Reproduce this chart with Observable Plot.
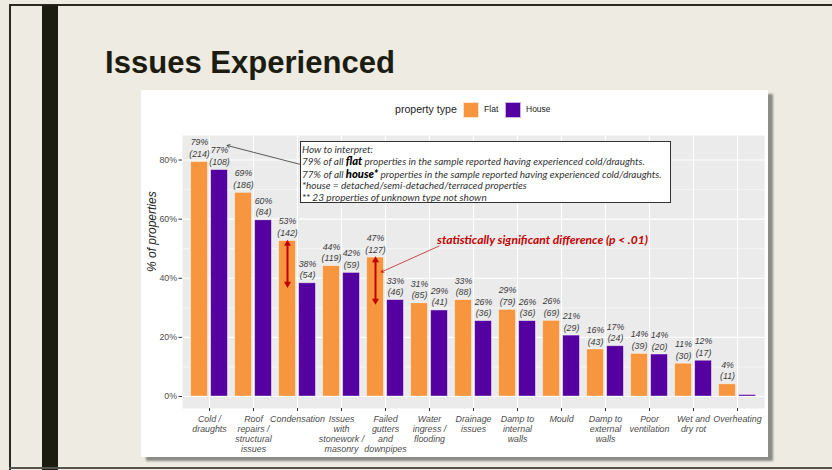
<!DOCTYPE html>
<html><head><meta charset="utf-8">
<script src="https://cdn.jsdelivr.net/npm/d3@7"></script>
<script src="https://cdn.jsdelivr.net/npm/@observablehq/plot@0.6"></script>
<style>
body{margin:0;background:#EEEBE3;width:832px;height:470px;overflow:hidden;position:relative;font-family:"Liberation Sans",Arial,sans-serif}
.abs{position:absolute}
.fit{white-space:nowrap;display:inline-block;line-height:1}
#card svg{position:absolute;left:0;top:0}
.note{font-family:Lato,"Open Sans",sans-serif;font-style:italic;color:#333;position:absolute;left:1px;font-size:10px}
.note b{color:#000;font-size:1.12em;font-weight:900;line-height:0.9}
</style></head><body>
<div class="abs" style="left:9px;top:4px;width:823px;height:2px;background:#2a2a22"></div>
<div class="abs" style="left:9px;top:4px;width:2px;height:466px;background:#2a2a22"></div>
<div class="abs" style="left:42px;top:5px;width:16px;height:465px;background:#1C1C10"></div>
<div class="abs" style="left:9px;top:467px;width:823px;height:2px;background:#55554f"></div>
<div id="title" class="abs fit" style="left:105px;top:47px;font-family:'Liberation Sans',Arial,sans-serif;font-weight:bold;font-size:31.5px;color:#1C1C10;transform-origin:0 0">Issues Experienced</div>
<div id="card" class="abs" style="left:141px;top:90px;width:627px;height:367px;background:#fff;box-shadow:5px 4px 2px #8c8c86">
  <div class="abs fit" style="left:254px;top:14px;font-size:10.6px;color:#222">property type</div>
  <div class="abs" style="left:322px;top:12px;width:14px;height:14px;background:#F8953F;border:0.5px solid #fde3cc"></div>
  <div class="abs fit" style="left:343px;top:15px;font-size:8.6px;color:#222">Flat</div>
  <div class="abs" style="left:364px;top:12px;width:14px;height:14px;background:#5500A0;border:0.5px solid #c9b0e6"></div>
  <div class="abs fit" style="left:385px;top:15px;font-size:8.5px;color:#222">House</div>
  <div id="note" class="abs" style="left:159px;top:51px;width:369px;height:60px;border:1.5px solid #333;background:#fff;z-index:2">
    <div id="n1" class="note fit" style="top:1.5px">How to interpret:</div>
    <div class="note fit" data-w="343" style="top:14px">79% of all <b>flat</b> properties in the sample reported having experienced cold/draughts.</div>
    <div class="note fit" data-w="360" style="top:26.5px">77% of all <b>house*</b> properties in the sample reported having experienced cold/draughts.</div>
    <div class="note fit base" data-w="225" style="top:38px">*house = detached/semi-detached/terraced properties</div>
    <div class="note fit base" data-w="185" style="top:49.5px">** 23 properties of unknown type not shown</div>
  </div>
  <div id="sig" class="abs fit" style="left:296px;top:144px;font-family:Lato,'Open Sans',sans-serif;font-style:italic;font-weight:bold;color:#C00000;font-size:12px;z-index:2">statistically significant difference (p &lt; .01)</div>
</div>
<script>
const categories = ["Cold /\ndraughts","Roof\nrepairs /\nstructural\nissues","Condensation","Issues\nwith\nstonework /\nmasonry","Failed\ngutters\nand\ndownpipes","Water\ningress /\nflooding","Drainage\nissues","Damp to\ninternal\nwalls","Mould","Damp to\nexternal\nwalls","Poor\nventilation","Wet and\ndry rot","Overheating"];
const flatPct  = [79.3, 68.9, 52.6, 44.1, 47.0, 31.5, 32.6, 29.3, 25.6, 15.9, 14.4, 11.1, 4.1];
const flatLab  = [79, 69, 53, 44, 47, 31, 33, 29, 26, 16, 14, 11, 4];
const flatN    = [214, 186, 142, 119, 127, 85, 88, 79, 69, 43, 39, 30, 11];
const housePct = [76.6, 59.6, 38.3, 41.8, 32.6, 29.1, 25.5, 25.5, 20.6, 17.0, 14.2, 12.1, 0.5];
const houseLab = [77, 60, 38, 42, 33, 29, 26, 26, 21, 17, 14, 12, null];
const houseN   = [108, 84, 54, 59, 46, 41, 36, 36, 29, 24, 20, 17, null];
const yTicks = [0, 20, 40, 60, 80];
const yMinor = [10, 30, 50, 70];
const sigCats = ["Condensation", "Failed\ngutters\nand\ndownpipes"];

const flat = categories.map((c,i)=>({cat:c, pct:flatPct[i], lab:flatLab[i], n:flatN[i]}));
const house = categories.map((c,i)=>({cat:c, pct:housePct[i], lab:houseLab[i], n:houseN[i]}));
const sig = sigCats.map(c=>{const i=categories.indexOf(c); return {cat:c, y1:flatPct[i]-0.9, y2:housePct[i]-0.2};});
const sigEnds = sig.flatMap(d=>[{cat:d.cat, y:d.y1, rot:0}, {cat:d.cat, y:d.y2, rot:180}]);
const noteArrow = [{x1:categories[2], y1:78.5, x2:categories[0], y2:86.2}];
const sigArrow = [{x1:categories[6], y1:55.5, x2:categories[4], y2:42.1}];

const ORANGE="#F8953F", PURPLE="#5500A0", RED="#C00000";
const lblFont = {fontSize:8.8, fontStyle:"italic", fill:"#3a3a3a", lineHeight:1.32, lineAnchor:"bottom", dy:-5};

const chart = Plot.plot({
  width:627, height:367,
  marginLeft:41, marginRight:4, marginTop:45, marginBottom:49,
  style:{background:"transparent", fontFamily:"'Liberation Sans',Arial,sans-serif"},
  x:{domain:categories, paddingInner:0, paddingOuter:0.1},
  y:{domain:[-4.06, 88.3]},
  marks:[
    Plot.frame({fill:"#EBEBEB", stroke:null}),
    Plot.gridY({ticks:yMinor, stroke:"#fff", strokeOpacity:1, strokeWidth:0.55}),
    Plot.gridY({ticks:yTicks, stroke:"#fff", strokeOpacity:1, strokeWidth:1.1}),
    Plot.gridX({stroke:"#fff", strokeOpacity:1, strokeWidth:1.1}),
    Plot.barY(flat, {x:"cat", y:"pct", fill:ORANGE, stroke:"#fff", strokeOpacity:0.55, strokeWidth:0.7, insetLeft:3.7, insetRight:23.6}),
    Plot.barY(house, {x:"cat", y:"pct", fill:PURPLE, stroke:"#fff", strokeOpacity:0.55, strokeWidth:0.7, insetLeft:23.7, insetRight:3.6}),
    Plot.text(flat, {x:"cat", y:"pct", text:d=>`${d.lab}%\n(${d.n})`, dx:-10, ...lblFont}),
    Plot.text(house.filter(d=>d.n!=null), {x:"cat", y:"pct", text:d=>`${d.lab}%\n(${d.n})`, dx:10, ...lblFont}),
    Plot.link(sig, {x1:"cat", x2:"cat", y1:"y1", y2:"y2", dx:-10, stroke:RED, strokeWidth:2}),
    Plot.dot(sigEnds, {x:"cat", y:"y", dx:-10, symbol:"triangle", r:2.6, fill:RED, stroke:null, rotate:"rot"}),
    Plot.arrow(noteArrow, {x1:"x1", y1:"y1", x2:"x2", y2:"y2", dx:3, insetEnd:15, stroke:"#333", strokeWidth:0.8, headLength:6}),
    Plot.arrow(sigArrow, {x1:"x1", y1:"y1", x2:"x2", y2:"y2", dx:-4.3, insetStart:33, stroke:RED, strokeWidth:0.7, headLength:6}),
    Plot.axisY({ticks:yTicks, tickFormat:d=>d+"%", tickSize:3.5, tickPadding:2, fontSize:8.8, fill:"#4D4D4D", stroke:"#333", label:null}),
    Plot.axisX({tickSize:3, tickPadding:3, fontSize:8.9, fontStyle:"italic", fill:"#4D4D4D", stroke:"#333", lineHeight:1.13, label:null}),
    Plot.text(["% of properties"], {frameAnchor:"left", text:d=>d, rotate:-90, dx:-30, fontSize:12, fontStyle:"italic", fill:"#222"})
  ]
});
document.getElementById("card").prepend(chart);

function fit(el, target){
  const w = el.getBoundingClientRect().width;
  const fs = parseFloat(getComputedStyle(el).fontSize);
  const nf = fs*target/w;
  el.style.fontSize = nf+"px";
  return nf;
}
const sizes = [];
document.querySelectorAll(".note[data-w]").forEach(el=>{const f=fit(el, +el.dataset.w); if(el.classList.contains("base")) sizes.push(f);});
document.getElementById("n1").style.fontSize = (sizes.reduce((a,b)=>a+b,0)/sizes.length)+"px";
fit(document.getElementById("sig"), 211);
const t = document.getElementById("title");
const tw = t.getBoundingClientRect().width;
t.style.transform = `scaleX(${290/tw})`;
</script>
</body></html>
